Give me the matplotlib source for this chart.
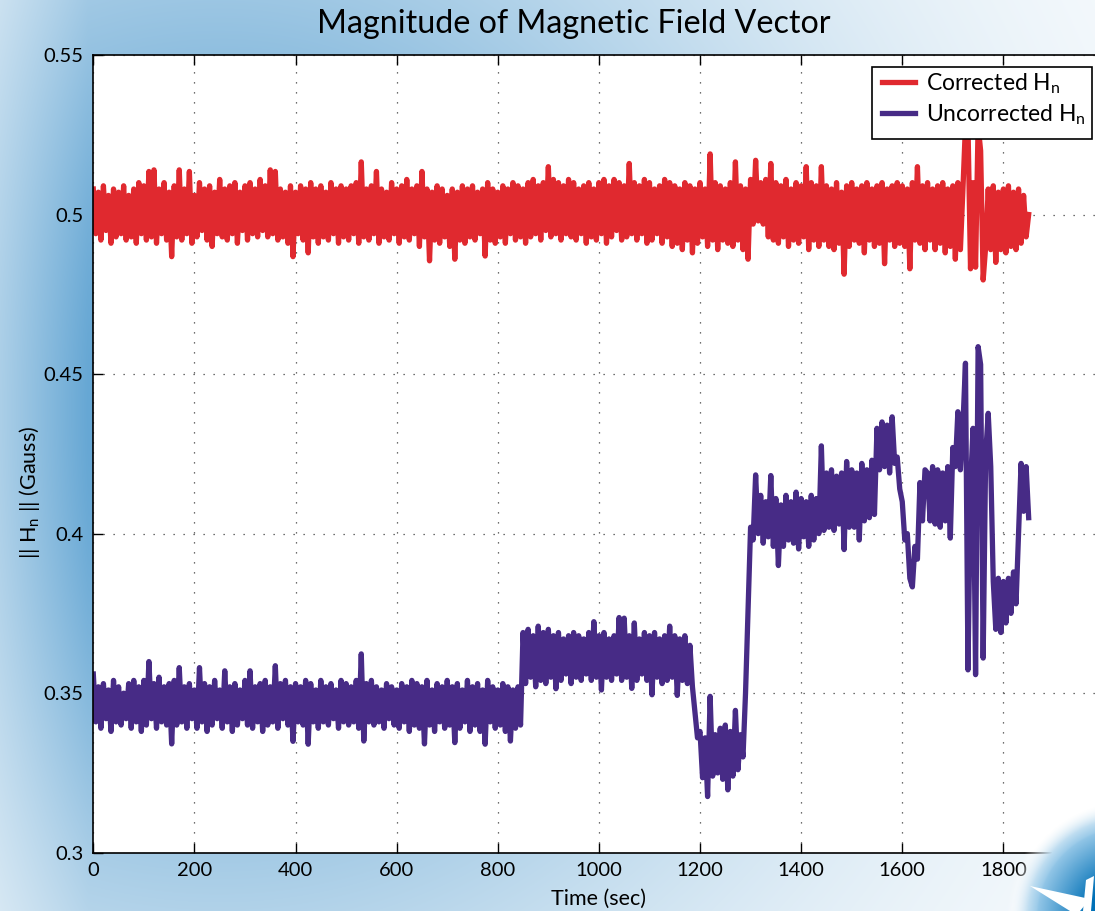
import numpy as np
import matplotlib
matplotlib.use('Agg')  # без GUI
import matplotlib.pyplot as plt
from matplotlib.patches import Polygon, Rectangle

# one sample every 5 s, 0 .. 1850 s
time_sec = np.arange(0, 1855, 5)

# ||H_n|| after correction (Gauss)
corrected_h = [
    0.508, 0.494, 0.507, 0.492, 0.509, 0.495, 0.506, 0.491, 0.508, 0.493,
    0.507, 0.494, 0.509, 0.492, 0.506, 0.493, 0.508, 0.491, 0.510, 0.494,
    0.509, 0.492, 0.5135, 0.493, 0.514, 0.491, 0.508, 0.494, 0.510, 0.492,
    0.507, 0.4868, 0.509, 0.493, 0.514, 0.492, 0.508, 0.494, 0.5135, 0.491,
    0.506, 0.493, 0.510, 0.495, 0.508, 0.492, 0.509, 0.490, 0.507, 0.494,
    0.511, 0.493, 0.508, 0.492, 0.509, 0.494, 0.510, 0.491, 0.507, 0.495,
    0.509, 0.492, 0.510, 0.494, 0.508, 0.493, 0.511, 0.495, 0.509, 0.493,
    0.514, 0.494, 0.5135, 0.492, 0.508, 0.493, 0.507, 0.491, 0.509, 0.4868,
    0.507, 0.494, 0.509, 0.492, 0.508, 0.488, 0.510, 0.493, 0.508, 0.491,
    0.509, 0.493, 0.507, 0.492, 0.510, 0.494, 0.508, 0.491, 0.509, 0.493,
    0.508, 0.492, 0.509, 0.494, 0.510, 0.491, 0.5165, 0.493, 0.508, 0.492,
    0.509, 0.494, 0.5135, 0.491, 0.508, 0.493, 0.507, 0.492, 0.510, 0.494,
    0.508, 0.491, 0.509, 0.493, 0.511, 0.492, 0.508, 0.494, 0.509, 0.490,
    0.5135, 0.493, 0.508, 0.4855, 0.507, 0.492, 0.509, 0.491, 0.508, 0.493,
    0.506, 0.490, 0.508, 0.486, 0.507, 0.492, 0.509, 0.491, 0.508, 0.493,
    0.509, 0.492, 0.507, 0.494, 0.508, 0.487, 0.510, 0.492, 0.508, 0.491,
    0.507, 0.493, 0.509, 0.491, 0.508, 0.494, 0.510, 0.492, 0.509, 0.493,
    0.508, 0.491, 0.510, 0.493, 0.511, 0.494, 0.509, 0.492, 0.510, 0.495,
    0.515, 0.493, 0.511, 0.494, 0.510, 0.492, 0.509, 0.494, 0.511, 0.493,
    0.510, 0.492, 0.508, 0.494, 0.509, 0.491, 0.510, 0.493, 0.508, 0.492,
    0.510, 0.494, 0.511, 0.491, 0.509, 0.493, 0.511, 0.495, 0.510, 0.492,
    0.509, 0.493, 0.516, 0.494, 0.510, 0.492, 0.509, 0.494, 0.511, 0.491,
    0.510, 0.492, 0.508, 0.494, 0.509, 0.491, 0.511, 0.493, 0.510, 0.490,
    0.509, 0.491, 0.508, 0.489, 0.510, 0.492, 0.509, 0.488, 0.508, 0.491,
    0.510, 0.493, 0.508, 0.490, 0.519, 0.492, 0.510, 0.489, 0.509, 0.492,
    0.508, 0.491, 0.510, 0.490, 0.5165, 0.492, 0.509, 0.489, 0.508, 0.486,
    0.511, 0.497, 0.517, 0.498, 0.510, 0.497, 0.511, 0.493, 0.516, 0.492,
    0.510, 0.491, 0.509, 0.493, 0.511, 0.490, 0.508, 0.492, 0.510, 0.491,
    0.509, 0.493, 0.515, 0.489, 0.510, 0.492, 0.509, 0.490, 0.515, 0.492,
    0.509, 0.490, 0.508, 0.489, 0.510, 0.491, 0.507, 0.4813, 0.509, 0.490,
    0.510, 0.492, 0.508, 0.491, 0.509, 0.488, 0.510, 0.492, 0.508, 0.490,
    0.509, 0.491, 0.510, 0.4846, 0.508, 0.492, 0.509, 0.490, 0.510, 0.491,
    0.509, 0.490, 0.508, 0.483, 0.510, 0.492, 0.515, 0.491, 0.509, 0.489,
    0.510, 0.492, 0.508, 0.489, 0.509, 0.491, 0.510, 0.488, 0.508, 0.490,
    0.509, 0.486, 0.510, 0.489, 0.508, 0.528, 0.528, 0.483, 0.510, 0.4835,
    0.528, 0.520, 0.4795, 0.490, 0.508, 0.489, 0.509, 0.485, 0.507, 0.489,
    0.508, 0.488, 0.509, 0.490, 0.507, 0.489, 0.508, 0.491, 0.506, 0.493,
    0.500,
]

# ||H_n|| without correction (Gauss)
uncorrected_h = [
    0.356, 0.341, 0.352, 0.339, 0.353, 0.342, 0.351, 0.338, 0.354, 0.341,
    0.352, 0.340, 0.350, 0.342, 0.353, 0.339, 0.354, 0.341, 0.352, 0.338,
    0.354, 0.340, 0.3599, 0.342, 0.353, 0.339, 0.355, 0.341, 0.352, 0.340,
    0.353, 0.3341, 0.354, 0.340, 0.358, 0.341, 0.352, 0.339, 0.353, 0.342,
    0.351, 0.339, 0.358, 0.341, 0.353, 0.338, 0.352, 0.340, 0.354, 0.342,
    0.351, 0.339, 0.357, 0.341, 0.352, 0.338, 0.353, 0.340, 0.351, 0.342,
    0.354, 0.340, 0.357, 0.339, 0.352, 0.341, 0.353, 0.338, 0.354, 0.340,
    0.352, 0.341, 0.3586, 0.339, 0.353, 0.342, 0.354, 0.340, 0.352, 0.3349,
    0.353, 0.341, 0.352, 0.340, 0.354, 0.334, 0.353, 0.341, 0.351, 0.339,
    0.354, 0.341, 0.352, 0.340, 0.353, 0.342, 0.351, 0.339, 0.354, 0.341,
    0.353, 0.340, 0.352, 0.341, 0.354, 0.339, 0.3623, 0.335, 0.353, 0.341,
    0.354, 0.340, 0.352, 0.341, 0.351, 0.339, 0.353, 0.342, 0.352, 0.340,
    0.351, 0.339, 0.353, 0.341, 0.352, 0.338, 0.354, 0.340, 0.353, 0.339,
    0.352, 0.3341, 0.354, 0.340, 0.351, 0.338, 0.353, 0.341, 0.352, 0.339,
    0.354, 0.340, 0.352, 0.3345, 0.353, 0.339, 0.351, 0.341, 0.354, 0.338,
    0.352, 0.340, 0.353, 0.338, 0.351, 0.334, 0.354, 0.341, 0.352, 0.339,
    0.351, 0.340, 0.353, 0.338, 0.352, 0.335, 0.351, 0.339, 0.352, 0.340,
    0.369, 0.353, 0.370, 0.355, 0.368, 0.352, 0.371, 0.354, 0.369, 0.353,
    0.370, 0.355, 0.368, 0.3514, 0.369, 0.354, 0.367, 0.356, 0.368, 0.353,
    0.369, 0.355, 0.368, 0.354, 0.367, 0.356, 0.369, 0.354, 0.3724, 0.355,
    0.368, 0.351, 0.369, 0.355, 0.367, 0.354, 0.368, 0.356, 0.3737, 0.354,
    0.3735, 0.355, 0.368, 0.3515, 0.372, 0.354, 0.367, 0.356, 0.369, 0.354,
    0.368, 0.3495, 0.369, 0.355, 0.367, 0.353, 0.368, 0.354, 0.371, 0.355,
    0.368, 0.3493, 0.367, 0.354, 0.368, 0.353, 0.365, 0.352, 0.344, 0.336,
    0.338, 0.3235, 0.336, 0.3176, 0.349, 0.324, 0.337, 0.325, 0.339, 0.323,
    0.340, 0.3197, 0.338, 0.324, 0.3446, 0.326, 0.337, 0.330, 0.350, 0.376,
    0.402, 0.398, 0.4184, 0.400, 0.412, 0.397, 0.410, 0.399, 0.4182, 0.396,
    0.411, 0.390, 0.409, 0.396, 0.412, 0.398, 0.410, 0.397, 0.413, 0.3952,
    0.411, 0.399, 0.410, 0.396, 0.412, 0.398, 0.411, 0.400, 0.4275, 0.401,
    0.419, 0.402, 0.420, 0.401, 0.418, 0.403, 0.419, 0.395, 0.4226, 0.402,
    0.420, 0.402, 0.419, 0.398, 0.422, 0.404, 0.420, 0.405, 0.423, 0.406,
    0.433, 0.420, 0.435, 0.421, 0.434, 0.419, 0.4366, 0.422, 0.424, 0.414,
    0.410, 0.398, 0.400, 0.386, 0.3833, 0.396, 0.392, 0.416, 0.404, 0.420,
    0.419, 0.404, 0.421, 0.403, 0.420, 0.402, 0.419, 0.404, 0.421, 0.3986,
    0.427, 0.421, 0.4382, 0.420, 0.434, 0.4534, 0.3573, 0.415, 0.433, 0.3558,
    0.4586, 0.453, 0.361, 0.425, 0.4377, 0.421, 0.385, 0.370, 0.386, 0.369,
    0.385, 0.372, 0.386, 0.375, 0.388, 0.378, 0.400, 0.422, 0.407, 0.421,
    0.405, 0.422, 0.415,
]
uncorrected_h = uncorrected_h[:len(time_sec)]

x_ticks = [0, 200, 400, 600, 800, 1000, 1200, 1400, 1600, 1800, 2000]
x_tick_labels = ['0', '200', '400', '600', '800', '1000', '1200', '1400',
                 '1600', '1800', '']  # 2000 is hidden behind the logo
y_ticks = [0.3, 0.35, 0.4, 0.45, 0.5, 0.55]
y_tick_labels = ['0.3', '0.35', '0.4', '0.45', '0.5', '0.55']

RED = '#e0292f'
PURPLE = '#472b86'
W, H = 1095, 911

plt.rcParams['font.family'] = ['Lato', 'DejaVu Sans']
plt.rcParams['mathtext.fontset'] = 'custom'
plt.rcParams['mathtext.rm'] = 'Lato'
plt.rcParams['mathtext.it'] = 'Lato'

fig = plt.figure(figsize=(W / 100, H / 100), dpi=100)

# голубой фон слайда
bg = fig.add_axes([0, 0, 1, 1], zorder=-10)
u = np.linspace(0, 1, W)[None, :]
v = np.linspace(0, 1, H)[:, None]
glow = np.exp(-((u - 0.2) / 0.55) ** 2 - ((v - 0.45) / 0.65) ** 2)
glow = glow * (0.6 + 0.4 * np.clip(u / 0.08, 0, 1))
blue = np.array([95, 163, 210]) / 255
img = 1 - glow[..., None] * (1 - blue)
bg.imshow(img, aspect='auto', extent=[0, 1, 0, 1])
bg.axis('off')

# main axes (x range 0..2000 runs past the right edge of the slide)
ax = fig.add_axes([93.3 / W, (H - 852.7) / H, 1011.2 / W, (852.7 - 55) / H])
ax.set_facecolor('white')
ax.plot(time_sec, corrected_h, color=RED, lw=3.8, label='Corrected H$_n$')
ax.plot(time_sec, uncorrected_h, color=PURPLE, lw=3.8, label='Uncorrected H$_n$')
ax.set_xlim(0, 2000)
ax.set_ylim(0.3, 0.55)
ax.set_xticks(x_ticks)
ax.set_xticklabels(x_tick_labels)
ax.set_yticks(y_ticks)
ax.set_yticklabels(y_tick_labels)
ax.tick_params(direction='in', length=7, width=1, top=True, right=True,
               labelsize=14.5, pad=7)
ax.grid(True, color='0.25', linestyle=(0, (1, 7)), linewidth=0.9)
ax.set_axisbelow(True)
for s in ax.spines.values():
    s.set_linewidth(1.2)

ax.set_xlabel('Time (sec)', fontsize=15.5, labelpad=7)
ax.set_ylabel('|| H$_n$ || (Gauss)', fontsize=15.5)
# у MATLAB подпись оси Y стоит ближе к цифрам и чуть ниже центра
ax.yaxis.set_label_coords((42 - 93.3) / 1011.2, (852.7 - 492) / 797.7)

# рамка легенды как в MATLAB, с запасом справа
ax.add_patch(Rectangle((871.7 / W, 1 - 138.5 / H), 220.6 / W, 71.2 / H,
                       transform=fig.transFigure, facecolor='white',
                       edgecolor='black', lw=1.2, zorder=4, clip_on=False))
leg = ax.legend(loc='upper left', bbox_to_anchor=(882 / W, 1 - 71 / H),
                bbox_transform=fig.transFigure, frameon=False, fontsize=16.5,
                handlelength=1.45, handletextpad=0.45, borderaxespad=0,
                borderpad=0, labelspacing=0.3)
leg.set_zorder(5)

title = fig.text(574 / W, 1 - 24 / H, 'Magnitude of Magnetic Field Vector',
                 ha='center', va='center', fontsize=22)
fig.canvas.draw()
tw = title.get_window_extent().width
title.set_fontsize(22 * 512 / tw)

# логотип в правом нижнем углу: размытый синий круг с белым ореолом
ov = fig.add_axes([0, 0, 1, 1], zorder=10)
ov.axis('off')
lx = np.arange(1000, W)[None, :] + 0.5
ly = np.arange(790, H)[:, None] + 0.5
d = np.hypot(lx - 1128, ly - 918)
edge = np.clip((d - 40) / 52, 0, 1)
inner = np.array([0, 112, 182]) / 255
outer = np.array([150, 200, 232]) / 255
rgb = inner + edge[..., None] * (outer - inner)
halo = np.clip((d - 90) / 26, 0, 1)
rgb = rgb + halo[..., None] * (1 - rgb)
alpha = 1 - np.clip((d - 100) / 22, 0, 1)
logo = np.dstack([rgb, alpha])
ov.imshow(logo, extent=[1000, W, H, 790], interpolation='bilinear')
ov.set_xlim(0, W)
ov.set_ylim(H, 0)
ov.add_patch(Polygon([(1030, 886), (1090, 899), (1080, 911), (1070, 911)],
                     closed=True, color='white', lw=0))
ov.add_patch(Polygon([(1086, 880), (1094, 876), (1091, 911), (1083, 911)],
                     closed=True, color='white', lw=0))

fig.savefig('out.png', dpi=100)
